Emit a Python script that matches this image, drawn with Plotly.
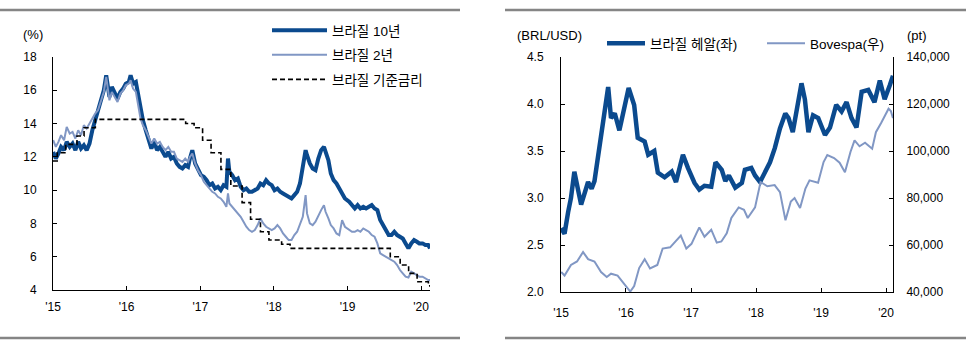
import plotly.graph_objects as go

# ---------------- Left panel data ----------------
yield_dates = [
    "2015-01-02","2015-01-15","2015-01-28","2015-02-10","2015-02-25","2015-03-10","2015-03-25",
    "2015-04-08","2015-04-22","2015-05-06","2015-05-20","2015-06-03","2015-06-17","2015-07-01",
    "2015-07-15","2015-07-29","2015-08-12","2015-08-26","2015-09-10","2015-09-22","2015-09-30",
    "2015-10-08","2015-10-20","2015-11-03","2015-11-17","2015-12-01","2015-12-15","2015-12-28",
    "2016-01-12","2016-01-21","2016-02-02","2016-02-16","2016-02-29","2016-03-10","2016-03-22",
    "2016-04-05","2016-04-19","2016-05-03","2016-05-17","2016-05-31","2016-06-14","2016-06-28",
    "2016-07-12","2016-07-26","2016-08-09","2016-08-23","2016-09-06","2016-09-20","2016-10-04",
    "2016-10-18","2016-11-01","2016-11-10","2016-11-22","2016-12-06","2016-12-20","2017-01-04",
    "2017-01-18","2017-02-01","2017-02-15","2017-03-01","2017-03-15","2017-03-29","2017-04-12",
    "2017-04-26","2017-05-10","2017-05-18","2017-05-25","2017-06-08","2017-06-22","2017-07-06",
    "2017-07-20","2017-08-03","2017-08-17","2017-08-31","2017-09-14","2017-09-28","2017-10-12",
    "2017-10-26","2017-11-09","2017-11-23","2017-12-07","2017-12-21","2018-01-04","2018-01-18",
    "2018-02-01","2018-02-15","2018-03-01","2018-03-15","2018-03-29","2018-04-12","2018-04-26",
    "2018-05-10","2018-05-24","2018-06-07","2018-06-14","2018-06-28","2018-07-12","2018-07-26",
    "2018-08-09","2018-08-23","2018-09-06","2018-09-14","2018-09-28","2018-10-10","2018-10-24",
    "2018-11-07","2018-11-21","2018-12-05","2018-12-19","2019-01-09","2019-01-23","2019-02-06",
    "2019-02-20","2019-03-06","2019-03-20","2019-04-03","2019-04-17","2019-05-01","2019-05-15",
    "2019-05-29","2019-06-12","2019-06-26","2019-07-10","2019-07-24","2019-08-07","2019-08-21",
    "2019-09-04","2019-09-18","2019-10-02","2019-10-16","2019-10-30","2019-11-13","2019-11-27",
    "2019-12-11","2019-12-23","2020-01-08","2020-01-22","2020-02-05","2020-02-14",
]
brazil_10y = [
    12.3, 11.9, 12.2, 12.6, 12.4, 12.9, 12.6,
    12.8, 12.4, 12.9, 12.5, 12.7, 12.4, 12.8,
    13.6, 14.2, 14.6, 15.4, 16.0, 16.9, 16.3,
    15.6, 16.2, 15.8, 15.5, 15.9, 16.1, 16.4,
    16.5, 16.9, 16.4, 16.5, 15.6, 14.8, 14.2,
    13.6, 13.1, 12.5, 12.9, 12.4, 12.6, 12.3,
    12.0, 12.3, 11.9, 12.0, 11.6, 11.4, 11.3,
    11.5, 11.4, 11.9, 12.4, 11.6, 11.2, 10.9,
    10.8, 10.6, 10.3, 10.4, 10.1, 10.2, 10.0,
    10.3, 10.2, 11.9, 11.1, 10.9, 10.6, 10.7,
    10.2, 10.0, 10.1, 9.9, 9.9, 10.0, 10.1,
    10.4, 10.3, 10.6, 10.4, 10.3, 10.0, 10.1,
    9.9, 9.8, 9.7, 9.6, 9.5, 9.7, 9.9,
    10.4, 11.6, 12.4, 12.1, 11.6, 11.3, 11.2,
    11.9, 12.4, 12.6, 12.3, 11.8, 11.0, 10.6,
    10.4, 10.1, 9.7, 9.5, 9.3, 9.1, 8.9,
    9.1, 8.9, 9.0, 8.9, 9.0, 9.1, 8.9,
    8.8, 8.2, 7.9, 7.6, 7.3, 7.3, 7.5,
    7.3, 7.2, 7.1, 6.8, 6.5, 6.8, 7.0,
    6.9, 6.8, 6.8, 6.7, 6.7, 6.5,
]
brazil_2y = [
    13.0, 12.6, 12.9, 13.3, 13.0, 13.8, 13.4,
    13.5, 13.1, 13.6, 13.3, 13.9, 13.7, 14.0,
    14.3, 14.6, 14.8, 15.4, 15.9, 16.8, 16.0,
    15.4, 15.9, 15.6, 15.3, 15.8, 16.0, 16.3,
    16.4, 16.6, 16.1, 15.9, 15.0, 14.3, 13.9,
    13.6, 13.2, 12.8, 13.1, 12.8, 12.9, 12.6,
    12.4, 12.6, 12.3, 12.3, 11.9, 11.8, 11.7,
    11.9, 11.7, 12.0, 12.2, 11.6, 11.2, 10.9,
    10.5, 10.3, 10.1, 9.9, 9.8, 9.6, 9.5,
    9.3, 9.0, 9.8, 9.2, 9.0, 8.8, 8.6,
    8.4, 8.1, 7.8, 7.6, 7.5, 7.6, 7.9,
    8.3, 8.0, 7.8, 7.7, 7.6, 7.7, 7.9,
    7.7, 7.4, 7.2, 7.0, 7.0, 7.3, 7.5,
    7.9, 8.4, 9.7, 8.6, 8.0, 7.9, 8.1,
    8.5, 8.8, 9.1, 8.7, 8.3, 7.9, 7.7,
    7.4, 7.3, 8.2, 7.8, 7.6, 7.5, 7.5,
    7.6, 7.5, 7.7, 7.6, 7.5, 7.3, 7.2,
    6.8, 6.2, 6.1, 6.0, 5.9, 5.8, 5.7,
    5.5, 5.2, 5.0, 4.8, 4.75, 5.1, 5.0,
    4.9, 4.8, 4.8, 4.7, 4.6, 4.6,
]
selic_dates = [
    "2015-01-01","2015-01-22","2015-03-05","2015-04-30","2015-06-04","2015-07-30",
    "2016-10-20","2016-12-01","2017-01-12","2017-02-23","2017-04-13","2017-06-01",
    "2017-07-27","2017-09-07","2017-10-26","2017-12-07","2018-02-08","2018-03-22",
    "2019-08-01","2019-09-19","2019-10-31","2019-12-12","2020-02-06","2020-02-14",
]
selic_rate = [
    11.75, 12.25, 12.75, 13.25, 13.75, 14.25,
    14.00, 13.75, 13.00, 12.25, 11.25, 10.25,
    9.25, 8.25, 7.50, 7.00, 6.75, 6.50,
    6.00, 5.50, 5.00, 4.50, 4.25, 4.25,
]

# ---------------- Right panel data ----------------
brl_dates = [
    "2015-01-02","2015-01-21","2015-02-10","2015-02-26","2015-03-17","2015-04-15","2015-04-24",
    "2015-06-02","2015-06-22","2015-07-08","2015-08-05","2015-09-02","2015-09-23","2015-10-09",
    "2015-10-30","2015-11-25","2015-12-24","2016-01-16","2016-02-16","2016-03-07","2016-04-15",
    "2016-05-05","2016-06-08","2016-06-28","2016-08-05","2016-09-14","2016-10-08","2016-11-16",
    "2016-12-14","2017-01-20","2017-02-16","2017-03-17","2017-04-24","2017-05-18","2017-06-22",
    "2017-07-12","2017-08-01","2017-09-06","2017-10-13","2017-10-30","2017-12-05","2017-12-26",
    "2018-01-23","2018-02-22","2018-03-20","2018-04-16","2018-05-15","2018-06-14","2018-07-02",
    "2018-07-26","2018-08-25","2018-09-13","2018-10-02","2018-10-22","2018-11-17","2018-12-16",
    "2019-01-23","2019-02-20","2019-03-27","2019-04-26","2019-05-24","2019-06-21","2019-07-19",
    "2019-08-17","2019-09-23","2019-10-28","2019-11-27","2019-12-24","2020-01-22","2020-02-09",
]
brl_usd = [
    2.68, 2.62, 2.85, 3.00, 3.28, 3.03, 2.93,
    3.17, 3.10, 3.18, 3.53, 3.85, 4.18, 3.85,
    3.90, 3.72, 3.99, 4.17, 3.99, 3.64, 3.60,
    3.46, 3.50, 3.27, 3.22, 3.28, 3.17, 3.46,
    3.32, 3.16, 3.09, 3.13, 3.12, 3.38, 3.30,
    3.18, 3.24, 3.11, 3.16, 3.30, 3.32, 3.24,
    3.17, 3.27, 3.38, 3.53, 3.74, 3.90, 3.85,
    3.70, 4.06, 4.22, 4.05, 3.70, 3.88, 3.85,
    3.67, 3.75, 3.99, 3.92, 4.02, 3.85, 3.75,
    4.13, 4.15, 4.02, 4.25, 4.05, 4.20, 4.30,
]
bovespa_dates = [
    "2015-01-02","2015-01-21","2015-02-26","2015-04-01","2015-05-05","2015-06-02","2015-07-08",
    "2015-08-14","2015-09-15","2015-10-09","2015-11-15","2015-12-14","2016-01-25","2016-02-16",
    "2016-03-15","2016-04-15","2016-05-15","2016-06-25","2016-07-25","2016-09-05","2016-10-05",
    "2016-11-04","2016-12-05","2017-01-03","2017-02-03","2017-02-16","2017-03-17","2017-04-24",
    "2017-05-25","2017-06-20","2017-07-20","2017-08-15","2017-09-25","2017-10-25","2017-11-15",
    "2017-12-26","2018-01-26","2018-03-05","2018-04-15","2018-05-15","2018-06-15","2018-07-15",
    "2018-08-05","2018-09-05","2018-10-05","2018-10-28","2018-12-15","2019-01-15","2019-02-05",
    "2019-03-15","2019-04-15","2019-05-15","2019-06-15","2019-07-08","2019-08-05","2019-09-05",
    "2019-10-15","2019-11-05","2019-12-05","2020-01-15","2020-01-28","2020-02-09",
]
bovespa_pt = [
    48500, 47000, 51500, 53000, 57000, 54000, 53000,
    48500, 46400, 47800, 47000, 44300, 40200, 42500,
    50200, 54000, 50000, 51500, 58500, 59000, 61500,
    64000, 58500, 60500, 65500, 67500, 63500, 66500,
    61000, 61500, 65000, 71500, 76000, 75000, 71500,
    76000, 86800, 85000, 85500, 82500, 70500, 78500,
    80000, 75700, 84000, 87500, 86500, 95300, 98300,
    97000, 95000, 91000, 99600, 104500, 102000, 103500,
    101000, 108000, 112000, 118000, 117000, 114000,
]

year_ticks = ["2015-01-01", "2016-01-01", "2017-01-01", "2018-01-01", "2019-01-01", "2020-01-01"]
year_labels = ["'15", "'16", "'17", "'18", "'19", "'20"]

DARK = "#0b4a8e"
LIGHT = "#8197c4"
FONT = "Liberation Sans, Arial, Noto Sans CJK KR"
LFONT = "Liberation Sans, Noto Sans CJK KR"

fig = go.Figure()

fig.add_trace(go.Scatter(x=yield_dates, y=brazil_10y, mode="lines", name="브라질 10년",
                         line=dict(color=DARK, width=4), xaxis="x", yaxis="y",
                         legend="legend", legendgroup="g1"))
fig.add_trace(go.Scatter(x=yield_dates, y=brazil_2y, mode="lines", name="브라질 2년",
                         line=dict(color=LIGHT, width=2), xaxis="x", yaxis="y",
                         legend="legend", legendgroup="g2"))
fig.add_trace(go.Scatter(x=selic_dates, y=selic_rate, mode="lines", name="브라질 기준금리",
                         line=dict(color="black", width=1.6, dash="5px,3px", shape="hv"),
                         xaxis="x", yaxis="y", legend="legend", legendgroup="g3"))

fig.add_trace(go.Scatter(x=bovespa_dates, y=bovespa_pt, mode="lines", name="Bovespa(우)",
                         line=dict(color=LIGHT, width=2), xaxis="x2", yaxis="y3",
                         legend="legend2", legendrank=2))
fig.add_trace(go.Scatter(x=brl_dates, y=brl_usd, mode="lines", name="브라질 헤알(좌)",
                         line=dict(color=DARK, width=4.5), xaxis="x2", yaxis="y2",
                         legend="legend2", legendrank=1))

W, H = 980, 343
def px(x):
    return x / W
def py(y):
    return 1 - y / H

axis_common = dict(showline=True, linecolor="black", linewidth=1, ticks="inside",
                   ticklen=4, tickcolor="black", showgrid=False, zeroline=False,
                   automargin=False,
                   tickfont=dict(family=FONT, size=12, color="black"))

fig.update_layout(
    width=W, height=H,
    margin=dict(l=0, r=0, t=0, b=0, pad=0, autoexpand=False),
    paper_bgcolor="white", plot_bgcolor="white",
    font=dict(family=FONT, size=12, color="black"),
    xaxis=dict(domain=[px(53), px(430)], anchor="y", type="date",
               range=["2015-01-01", "2020-02-14"], tickvals=year_ticks, ticktext=year_labels,
               ticklabelstandoff=6, **axis_common),
    yaxis=dict(domain=[py(290), py(57)], anchor="x", range=[4, 18],
               tickvals=[4, 6, 8, 10, 12, 14, 16, 18], ticklabelstandoff=13, **axis_common),
    xaxis2=dict(domain=[px(561), px(893)], anchor="y2", type="date",
                range=["2015-01-01", "2020-02-09"], tickvals=year_ticks, ticktext=year_labels,
                ticklabelstandoff=10, **axis_common),
    yaxis2=dict(domain=[py(292), py(57)], anchor="x2", range=[2.0, 4.5],
                tickvals=[2.0, 2.5, 3.0, 3.5, 4.0, 4.5], tickformat=".1f",
                ticklabelstandoff=14, **axis_common),
    yaxis3=dict(domain=[py(292), py(57)], anchor="x2", overlaying="y2", side="right",
                range=[40000, 140000], tickvals=[40000, 60000, 80000, 100000, 120000, 140000],
                tickformat=",", ticklabelstandoff=10, **axis_common),
    legend=dict(x=px(267), y=py(15), xanchor="left", yanchor="top", orientation="v",
                bgcolor="rgba(0,0,0,0)", font=dict(family=LFONT, size=13.5, color="black"),
                tracegroupgap=4, itemwidth=55),
    legend2=dict(x=px(602), y=py(28), xanchor="left", yanchor="top", orientation="h",
                 bgcolor="rgba(0,0,0,0)", font=dict(family=LFONT, size=13.5, color="black"),
                 entrywidth=107, entrywidthmode="pixels", itemwidth=38),
    showlegend=True,
)

# separator lines
for (x0, x1) in [(0, 460), (505, 966)]:
    for yy in (10, 338):
        fig.add_shape(type="line", xref="paper", yref="paper", x0=px(x0), x1=px(x1),
                      y0=py(yy), y1=py(yy), line=dict(color="#858585", width=2.5))

# unit labels
for txt, xx, yy in [("(%)", 33, 34), ("(BRL/USD)", 549, 35), ("(pt)", 917, 35)]:
    fig.add_annotation(text=txt, xref="paper", yref="paper", x=px(xx), y=py(yy),
                       xanchor="center", yanchor="middle", showarrow=False,
                       font=dict(family=FONT, size=13, color="black"))

fig.write_html("out.html")
